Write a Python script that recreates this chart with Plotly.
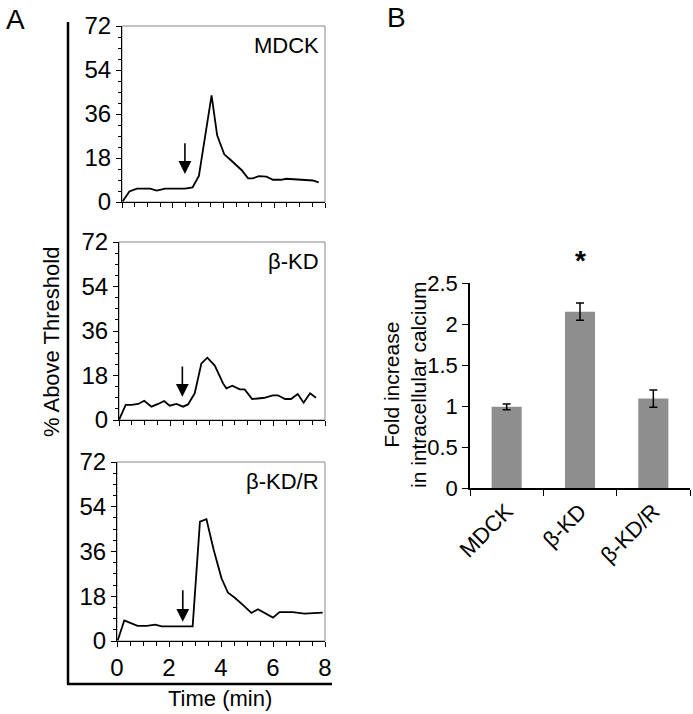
import plotly.graph_objects as go

# the page's body margin is removed (see write_html below), figure fills the window
OFF = 0
W, H = 693 - OFF, 714 - OFF
FONT = "Liberation Sans, Arial, sans-serif"

# ---- Panel A data (time in min, % above threshold) ----
mdck_t = [0.03, 0.29, 0.59, 1.11, 1.37, 1.70, 2.48, 2.78, 3.03, 3.53, 3.75, 4.03, 4.25, 4.71, 4.97, 5.16, 5.39, 5.69, 5.95, 6.27, 6.47, 7.00, 7.52, 7.75]
mdck_y = [0.3, 4.3, 5.5, 5.5, 4.7, 5.5, 5.5, 6.0, 10.7, 43.6, 27.3, 19.5, 17.5, 13.1, 9.7, 9.7, 10.6, 10.4, 9.1, 9.1, 9.5, 9.1, 8.8, 8.0]

kd_t = [0.01, 0.26, 0.49, 0.75, 0.98, 1.26, 1.52, 1.75, 1.97, 2.23, 2.49, 2.68, 2.94, 3.20, 3.43, 3.72, 4.04, 4.17, 4.40, 4.69, 4.88, 5.17, 5.39, 5.65, 5.97, 6.17, 6.45, 6.68, 6.94, 7.17, 7.42, 7.65]
kd_y = [0.3, 6.1, 6.1, 6.5, 7.8, 5.4, 6.5, 7.7, 5.8, 6.5, 5.4, 6.3, 10.8, 22.9, 25.2, 22.0, 14.8, 12.8, 13.9, 12.4, 12.4, 8.5, 8.7, 9.0, 10.0, 10.0, 8.5, 8.5, 10.5, 7.0, 10.8, 9.0]

kdr_t = [0.03, 0.28, 0.51, 0.79, 1.15, 1.47, 1.72, 2.91, 3.19, 3.44, 3.72, 4.02, 4.27, 4.53, 4.85, 5.17, 5.42, 5.68, 6.00, 6.25, 6.76, 7.21, 7.65, 7.91]
kdr_y = [0.3, 8.3, 7.3, 6.1, 6.1, 6.6, 5.9, 5.9, 48.0, 49.0, 36.6, 25.2, 19.4, 17.4, 14.4, 11.3, 12.8, 11.3, 9.4, 11.6, 11.6, 11.0, 11.4, 11.4]

panel_names = ["MDCK", "β-KD", "β-KD/R"]
arrow_t = [2.48, 2.46, 2.53]
arrow_from = [24.6, 22.2, 21.0]
arrow_to = [11.5, 9.4, 7.7]

y_ticks = [0, 18, 36, 54, 72]
x_ticks = [0, 2, 4, 6, 8]

# ---- Panel B data ----
bar_cats = ["MDCK", "β-KD", "β-KD/R"]
bar_vals = [0.99, 2.15, 1.09]
bar_err = [0.035, 0.105, 0.105]
bar_ticks = [0, 0.5, 1, 1.5, 2, 2.5]
bar_tick_text = ["0", "0.5", "1", "1.5", "2", "2.5"]


def px_x(p):
    return min(1.0, max(0.0, (p - OFF) / W))


def px_y(p):
    return min(1.0, max(0.0, 1 - (p - OFF) / H))


fig = go.Figure()

# panel pixel boxes (left, right, top, bottom) in window pixels
boxes = [(122, 325, 26, 202), (119, 325, 242, 420), (117, 325, 462, 641)]
series = [(mdck_t, mdck_y), (kd_t, kd_y), (kdr_t, kdr_y)]

layout = dict(
    width=W, height=H, margin=dict(l=0, r=0, t=0, b=0, autoexpand=False),
    paper_bgcolor="white", plot_bgcolor="white", showlegend=False,
    font=dict(family=FONT, size=22, color="black"),
)
annotations = []
shapes = []

for i, ((t, y), (l, r, tp, bt)) in enumerate(zip(series, boxes)):
    n = i + 1
    xa = "x" if n == 1 else f"x{n}"
    ya = "y" if n == 1 else f"y{n}"
    fig.add_trace(go.Scatter(x=t, y=y, mode="lines", line=dict(color="black", width=1.8),
                             xaxis=xa, yaxis=ya, hoverinfo="skip"))
    layout[f"xaxis{'' if n == 1 else n}"] = dict(
        domain=[px_x(l), px_x(r)], anchor=ya, range=[0, 8], automargin=False,
        tickvals=x_ticks, showticklabels=(n == 3), ticks="outside", ticklen=5,
        tickwidth=1, tickcolor="black",
        minor=dict(dtick=0.5, ticks="outside", ticklen=4, tickcolor="black"),
        showline=True, linecolor="black", linewidth=1.2, showgrid=False, zeroline=False,
        tickfont=dict(size=24), fixedrange=True,
    )
    layout[f"yaxis{'' if n == 1 else n}"] = dict(
        domain=[px_y(bt), px_y(tp)], anchor=xa, range=[0, 72], automargin=False,
        tickvals=y_ticks, ticks="outside", ticklen=5, tickwidth=1, tickcolor="black",
        minor=dict(dtick=4.5, ticks="outside", ticklen=3, tickcolor="black"),
        showline=True, linecolor="black", linewidth=1.2, showgrid=False, zeroline=False,
        tickfont=dict(size=24), fixedrange=True,
    )
    # light grey frame (top/right)
    shapes.append(dict(type="rect", xref=f"{xa} domain", yref=f"{ya} domain",
                       x0=0, x1=1, y0=0, y1=1, line=dict(color="#888888", width=1),
                       layer="below"))
    # panel label
    annotations.append(dict(xref=f"{xa} domain", yref=f"{ya} domain", x=0.98, y=0.97,
                            text=panel_names[i], showarrow=False, xanchor="right",
                            yanchor="top", font=dict(size=22)))
    # stimulus arrow
    annotations.append(dict(xref=xa, yref=ya, axref=xa, ayref=ya,
                            x=arrow_t[i], y=arrow_to[i], ax=arrow_t[i], ay=arrow_from[i],
                            text="", showarrow=True, arrowhead=2, arrowsize=1.6,
                            arrowwidth=1.6, arrowcolor="black", standoff=0))

# big bracket lines for panel A
shapes.append(dict(type="line", xref="paper", yref="paper", x0=px_x(68), x1=px_x(68),
                   y0=px_y(22), y1=px_y(684), line=dict(color="black", width=2.5)))
shapes.append(dict(type="line", xref="paper", yref="paper", x0=px_x(67), x1=px_x(332),
                   y0=px_y(684), y1=px_y(684), line=dict(color="black", width=2.5)))


def label(x, y, text, size, angle=0):
    annotations.append(dict(xref="paper", yref="paper", x=px_x(x), y=px_y(y),
                            xanchor="center", yanchor="middle", text=text,
                            textangle=angle, showarrow=False, font=dict(size=size)))


label(51, 342, "% Above Threshold", 22, -90)
label(220, 698, "Time (min)", 22)
label(15, 19, "A", 28)
label(396, 17, "B", 28)
label(405, 385, "Fold increase<br>in intracellular calcium", 21, -90)

# ---- Panel B bar chart ----
fig.add_trace(go.Bar(x=bar_cats, y=bar_vals, xaxis="x4", yaxis="y4",
                     marker=dict(color="#8e8e8e", line=dict(width=0)), width=0.41,
                     error_y=dict(type="data", array=bar_err, visible=True,
                                  color="black", thickness=1.5, width=4),
                     hoverinfo="skip"))
layout["xaxis4"] = dict(domain=[px_x(470), px_x(690)], anchor="y4", automargin=False,
                        type="category", tickson="boundaries", ticks="outside",
                        ticklen=6, tickcolor="black", tickwidth=1.2,
                        tickangle=-45, showline=True, linecolor="black", linewidth=1.5,
                        showgrid=False, tickfont=dict(size=22), fixedrange=True)
layout["yaxis4"] = dict(domain=[px_y(488), px_y(283)], anchor="x4", range=[0, 2.5],
                        automargin=False,
                        tickvals=bar_ticks, ticktext=bar_tick_text, ticks="outside",
                        ticklen=6, tickcolor="black", tickwidth=1.2,
                        showline=True, linecolor="black", linewidth=1.5,
                        showgrid=False, zeroline=False, tickfont=dict(size=22),
                        fixedrange=True)
annotations.append(dict(xref="x4", yref="paper", x="β-KD", y=px_y(260),
                        xanchor="center", yanchor="middle",
                        text="<b>*</b>", showarrow=False, font=dict(size=28)))

layout["annotations"] = annotations
layout["shapes"] = shapes
fig.update_layout(**layout)
fig.write_html("out.html", config={"displayModeBar": False},
               post_script="document.body.style.margin='0';document.body.style.overflow='hidden';")
